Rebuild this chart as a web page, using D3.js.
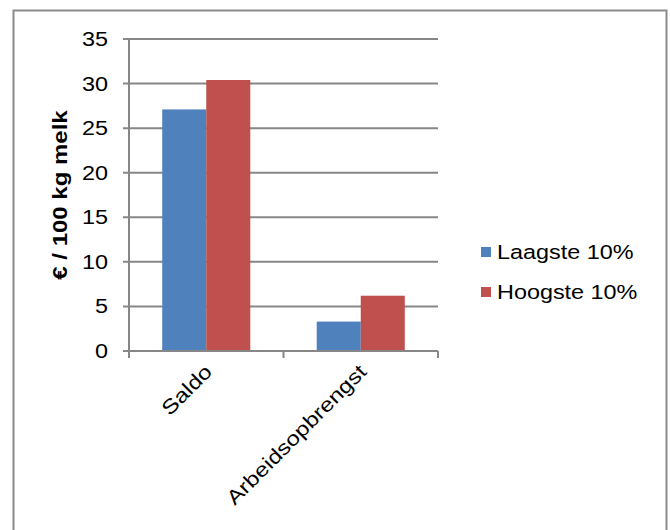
<!DOCTYPE html>
<html>
<head>
<meta charset="utf-8">
<script src="https://cdn.jsdelivr.net/npm/d3@7"></script>
<style>
  html, body { margin: 0; padding: 0; background: #fff; }
  svg { display: block; }
  text { font-family: "Liberation Sans", Arial, sans-serif; fill: #000; }
</style>
</head>
<body>
<svg id="chart" width="670" height="530"></svg>
<script>
// Chart data
const categories = ["Saldo", "Arbeidsopbrengst"];
const seriesNames = ["Laagste 10%", "Hoogste 10%"];
const laagste = [27.1, 3.3];
const hoogste = [30.4, 6.2];
const yTicks = [0, 5, 10, 15, 20, 25, 30, 35];
const yLabel = "€ / 100 kg melk";
const colors = ["#4F81BD", "#C0504D"];

const seriesValues = [laagste, hoogste];
const svg = d3.select("#chart");

// Outer chart frame
svg.append("rect")
  .attr("x", 13.5).attr("y", 10.5)
  .attr("width", 653).attr("height", 540)
  .attr("fill", "#fff")
  .attr("stroke", "#8a8a8a").attr("stroke-width", 2);

const plot = { left: 129, right: 438, top: 39, bottom: 351 };
const gridColor = "#878787";
const sx = 1.2; // horizontal glyph stretch of the chart typeface

const y = d3.scaleLinear().domain([0, 35]).range([plot.bottom, plot.top]);
const x0 = d3.scaleBand().domain(categories).range([plot.left, plot.right])
  .paddingInner(0.43).paddingOuter(0.215);
const x1 = d3.scaleBand().domain(seriesNames).range([0, x0.bandwidth()]);

// Horizontal gridlines with tick stubs
svg.append("g").selectAll("line").data(yTicks).join("line")
  .attr("x1", plot.left - 6).attr("x2", plot.right)
  .attr("y1", d => y(d)).attr("y2", d => y(d))
  .attr("stroke", gridColor).attr("stroke-width", 2);

// Y tick labels
svg.append("g").selectAll("text").data(yTicks).join("text")
  .attr("transform", d => `translate(108,${y(d)}) scale(${sx},1)`)
  .attr("text-anchor", "end")
  .attr("dy", "0.36em")
  .style("font-size", "19.5px")
  .text(d => d);

// Bars
const groups = svg.append("g").selectAll("g").data(categories).join("g")
  .attr("transform", d => `translate(${x0(d)},0)`);
groups.selectAll("rect")
  .data((c, i) => seriesNames.map((s, j) => ({ s, v: seriesValues[j][i], j })))
  .join("rect")
  .attr("x", d => x1(d.s))
  .attr("width", x1.bandwidth())
  .attr("y", d => y(d.v))
  .attr("height", d => y(0) - y(d.v))
  .attr("fill", d => colors[d.j]);

// Y axis line
svg.append("line")
  .attr("x1", plot.left).attr("x2", plot.left)
  .attr("y1", plot.top).attr("y2", plot.bottom)
  .attr("stroke", gridColor).attr("stroke-width", 2);

// X axis line and category boundary ticks
svg.append("line")
  .attr("x1", plot.left - 6).attr("x2", plot.right)
  .attr("y1", plot.bottom).attr("y2", plot.bottom)
  .attr("stroke", gridColor).attr("stroke-width", 2);
const boundaries = [plot.left, ...categories.map(c => x0(c) + x0.bandwidth() + x0.step() * x0.paddingInner() / 2)];
boundaries[boundaries.length - 1] = plot.right;
svg.append("g").selectAll("line").data(boundaries).join("line")
  .attr("x1", d => d).attr("x2", d => d)
  .attr("y1", plot.bottom).attr("y2", plot.bottom + 7)
  .attr("stroke", gridColor).attr("stroke-width", 2);

// Rotated category labels
svg.append("g").selectAll("text").data(categories).join("text")
  .attr("transform", d => `translate(${x0(d) + x0.bandwidth() / 2 + 7},373) rotate(-45) scale(${sx},1)`)
  .attr("text-anchor", "end")
  .style("font-size", "20px")
  .text(d => d);

// Y axis title
svg.append("text")
  .attr("transform", `translate(67,${(plot.top + plot.bottom) / 2}) rotate(-90) scale(${sx},1)`)
  .attr("text-anchor", "middle")
  .style("font-size", "20px")
  .style("font-weight", "bold")
  .text(yLabel);

// Legend
const legend = svg.append("g").selectAll("g").data(seriesNames).join("g")
  .attr("transform", (d, i) => `translate(481,${247 + i * 40})`);
legend.append("rect")
  .attr("width", 10).attr("height", 10)
  .attr("fill", (d, i) => colors[i]);
legend.append("text")
  .attr("transform", `translate(16,12) scale(${sx},1)`)
  .style("font-size", "19.5px")
  .text(d => d);
</script>
</body>
</html>
